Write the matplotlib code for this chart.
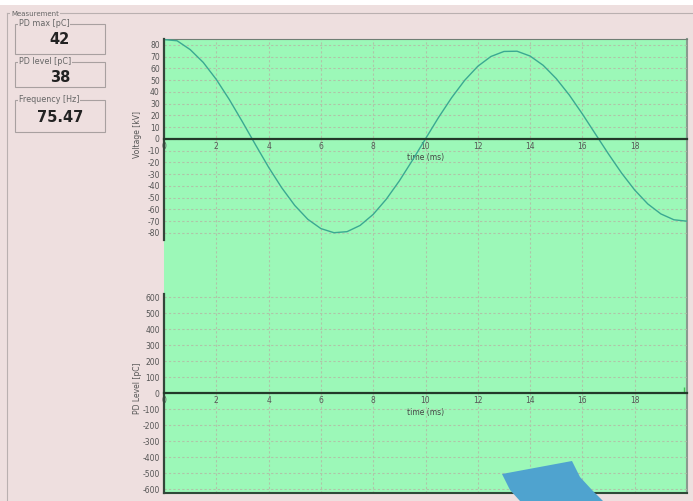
import numpy as np
import matplotlib
matplotlib.use('Agg')
import matplotlib.pyplot as plt
from matplotlib.patches import Rectangle, Polygon

plt.rcParams['font.family'] = 'DejaVu Sans'
plt.rcParams['axes.unicode_minus'] = False

# voltage trace, sampled every 0.5 ms
time_ms = [0.0, 0.5, 1.0, 1.5, 2.0, 2.5, 3.0, 3.5, 4.0, 4.5,
           5.0, 5.5, 6.0, 6.5, 7.0, 7.5, 8.0, 8.5, 9.0, 9.5,
           10.0, 10.5, 11.0, 11.5, 12.0, 12.5, 13.0, 13.5, 14.0, 14.5,
           15.0, 15.5, 16.0, 16.5, 17.0, 17.5, 18.0, 18.5, 19.0, 19.5, 20.0]
voltage_kv = [84.5, 83.5, 76.0, 65.1, 50.6, 33.4, 14.5, -5.0, -24.1, -41.5,
              -56.6, -68.4, -76.3, -79.8, -78.9, -73.6, -64.2, -51.3, -35.7, -18.2,
              0.1, 18.3, 35.1, 49.9, 61.8, 70.1, 74.4, 74.6, 70.5, 62.6,
              51.3, 37.3, 21.2, 4.1, -12.9, -29.1, -43.5, -55.3, -63.8, -68.8, -70.0]

# partial discharge pulses
pd_time = [19.9]
pd_level = [38]

# readouts
readouts = [('PD max [pC]', '42'), ('PD level [pC]', '38'), ('Frequency [Hz]', '75.47')]

x_ticks = [0, 2, 4, 6, 8, 10, 12, 14, 16, 18]
v_ticks = list(range(-80, 90, 10))
pd_ticks = list(range(-600, 700, 100))

W, H = 693, 501
bg = '#EEDFDF'
green = '#9CF8B8'
grid_c = '#afc4a8'
tick_c = '#555555'


def frac(x0, y0, x1, y1):
    return [x0 / W, 1 - y1 / H, (x1 - x0) / W, (y1 - y0) / H]


fig = plt.figure(figsize=(W / 100, H / 100), dpi=100)
fig.patch.set_facecolor(bg)

# white strip at the top of the window
fig.add_artist(Rectangle((0, 1 - 5 / H), 1, 5 / H, transform=fig.transFigure,
                         facecolor='white', edgecolor='none', zorder=0))

# group box
fig.add_artist(plt.Line2D([7 / W, 1], [1 - 13 / H] * 2, transform=fig.transFigure,
                          color='#b9b0b0', lw=0.8))
fig.add_artist(plt.Line2D([7 / W, 7 / W], [1 - 13 / H, 0], transform=fig.transFigure,
                          color='#b9b0b0', lw=0.8))
fig.text(11 / W, 1 - 14 / H, 'Measurement', fontsize=5, color='#666666',
         va='center', ha='left', zorder=5,
         bbox=dict(facecolor=bg, edgecolor='none', pad=0.5))

boxes = [(24, 54, 39), (62, 87, 77), (100, 132, 117)]
for (title, val), (y0, y1, yv) in zip(readouts, boxes):
    fig.add_artist(Rectangle((15 / W, 1 - y1 / H), 90 / W, (y1 - y0) / H,
                             transform=fig.transFigure, facecolor=bg,
                             edgecolor='#a8a0a0', lw=0.8))
    fig.text(19 / W, 1 - y0 / H, title, fontsize=5.8, color='#666666',
             va='center', ha='left', zorder=5,
             bbox=dict(facecolor=bg, edgecolor='none', pad=0.5))
    fig.text(60 / W, 1 - yv / H, val, fontsize=10.5, fontweight='bold',
             color='#222222', va='center', ha='center')

# green plot area with the vertical grid
bg_ax = fig.add_axes(frac(164, 39, 687, 493))
bg_ax.set_facecolor(green)
bg_ax.set_xlim(0, 20)
bg_ax.set_xticks(x_ticks[1:])
bg_ax.set_yticks([])
bg_ax.tick_params(length=0, labelbottom=False)
bg_ax.grid(True, axis='x', color=grid_c, linestyle=(0, (2, 2)), lw=0.8)
bg_ax.spines['left'].set_visible(False)
bg_ax.spines['top'].set_color('#6f7f74')
bg_ax.spines['right'].set_color('#8a9a8f')
bg_ax.spines['right'].set_linewidth(1.5)
bg_ax.spines['bottom'].set_color('#2f4a38')
bg_ax.spines['bottom'].set_linewidth(1.5)


def style_panel(ax, yticks, ylabel, ylab_y):
    ax.set_facecolor('none')
    ax.set_xlim(0, 20)
    ax.set_yticks(yticks)
    ax.set_xticks(x_ticks)
    ax.grid(True, axis='y', color=grid_c, linestyle=(0, (2, 2)), lw=0.8)
    ax.spines['top'].set_visible(False)
    ax.spines['right'].set_visible(False)
    ax.spines['left'].set_color('#34463a')
    ax.spines['left'].set_linewidth(1.6)
    ax.spines['bottom'].set_position(('data', 0))
    ax.spines['bottom'].set_color('#233a2a')
    ax.spines['bottom'].set_linewidth(1.6)
    ax.tick_params(axis='both', length=0, labelsize=5.5, labelcolor=tick_c, pad=3)
    ax.tick_params(axis='x', pad=2.5)
    ax.set_xlabel('time (ms)', fontsize=5.5, color='#444444', labelpad=1.5)
    fig.text(137 / W, 1 - ylab_y / H, ylabel, rotation=90, fontsize=5.5,
             color='#555555', ha='center', va='center')


ax1 = fig.add_axes(frac(164, 39, 687, 240))
ax1.set_ylim(-86, 85)
style_panel(ax1, v_ticks, 'Voltage [kV]', 135)
ax1.plot(time_ms, voltage_kv, color='#3aa992', lw=1.0)

ax2 = fig.add_axes(frac(164, 294, 687, 493))
ax2.set_ylim(-625, 619)
style_panel(ax2, pd_ticks, 'PD Level [pC]', 388)
ax2.vlines(pd_time, 0, pd_level, color='#3fbf55', lw=1.0)

# blue arrow shape at the bottom
arrow_px = [(502, 474), (572, 461), (580, 477), (592, 490), (603, 501),
            (520, 501), (510, 490)]
fig.add_artist(Polygon([(x / W, 1 - y / H) for x, y in arrow_px], closed=True,
                       transform=fig.transFigure, facecolor='#4fa3cf',
                       edgecolor='none'))

fig.savefig('out.png', dpi=100, facecolor=fig.get_facecolor())
